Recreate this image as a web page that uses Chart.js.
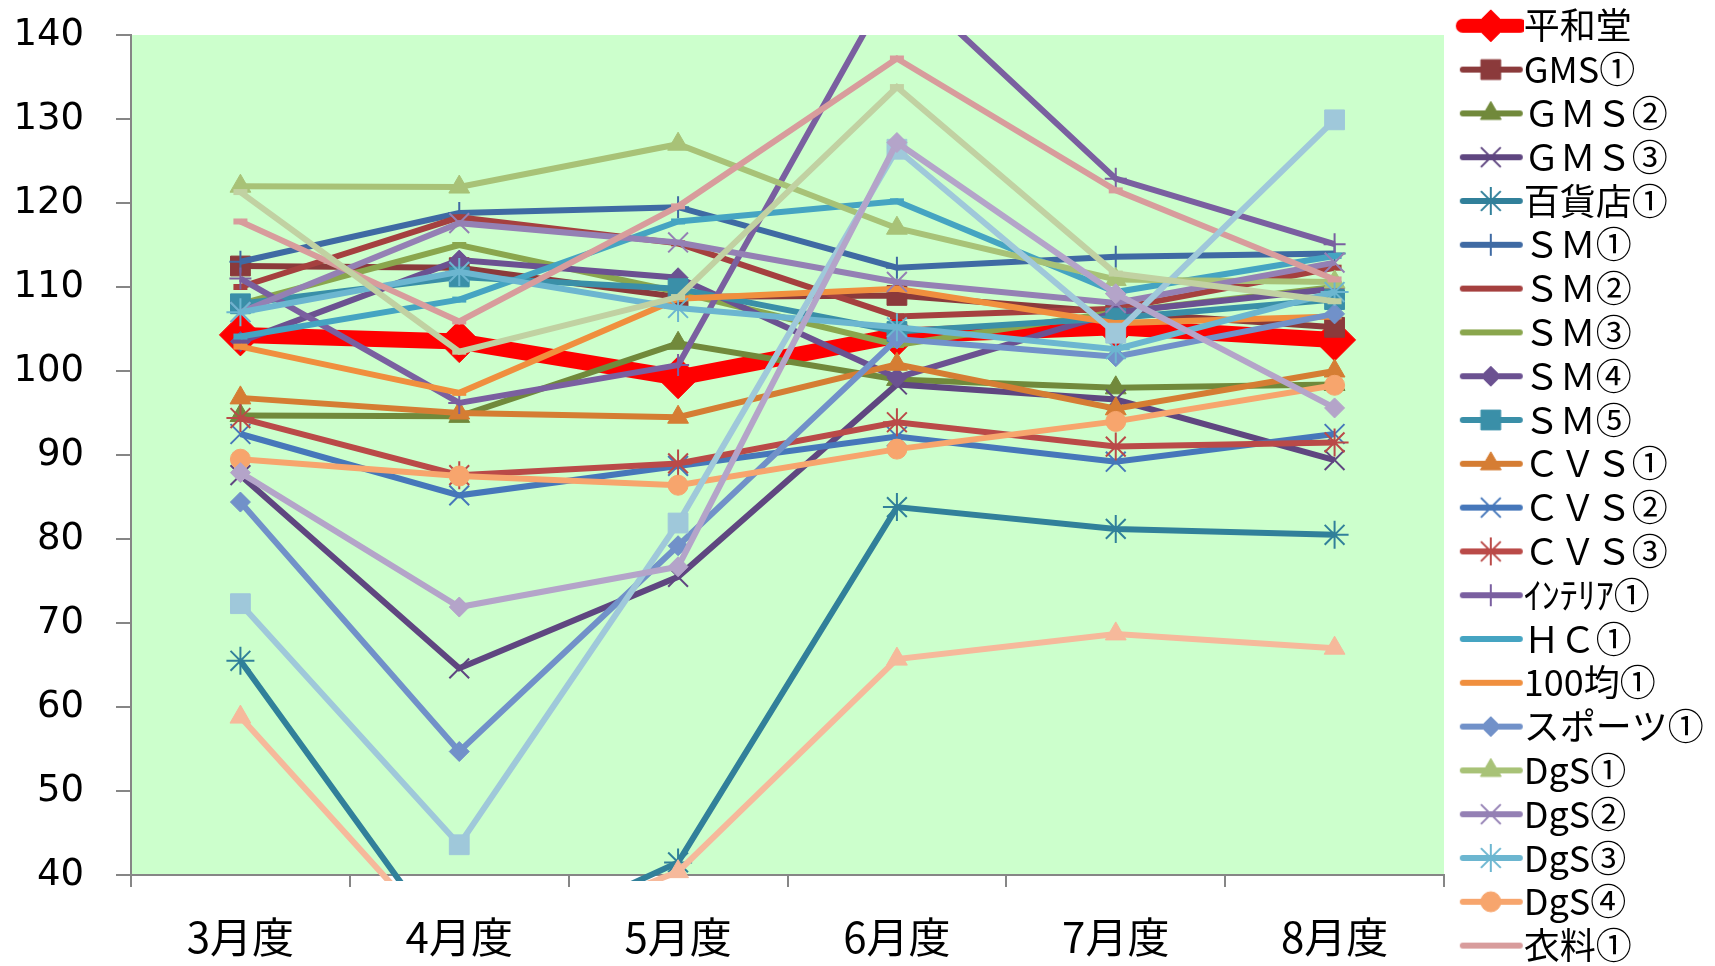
<!DOCTYPE html>
<html lang="ja">
<head>
<meta charset="utf-8">
<title>業態別 前年比</title>
<script src="https://cdn.jsdelivr.net/npm/chart.js@4.4.1/dist/chart.umd.min.js"></script>
<style>
    html, body { margin: 0; padding: 0; background: #fff; overflow: hidden; }
    #wrap { position: relative; width: 1715px; height: 1000px; }
</style>
</head>
<body>
<div id="wrap"><canvas id="salesChart"></canvas></div>
<script>
/* ---------- data ---------- */
const months = ['3月度', '4月度', '5月度', '6月度', '7月度', '8月度'];
const yMin = 40;
const yMax = 140;
const yStep = 10;

const heiwado   = [104.3, 103.5, 99.2, 104.2, 105.2, 103.7];
const gms1      = [112.5, 112.3, 108.8, 109.0, 107.0, 105.2];
const gms2      = [94.7, 94.6, 103.3, 99.0, 98.0, 98.4];
const gms3      = [87.6, 64.6, 75.5, 98.4, 96.6, 89.4];
const dept1     = [65.5, 29.5, 41.5, 83.8, 81.2, 80.5];
const sm1       = [113.0, 118.8, 119.5, 112.3, 113.6, 114.0];
const sm2       = [110.0, 118.3, 115.2, 106.5, 107.4, 112.3];
const sm3       = [108.0, 115.0, 109.4, 103.1, 107.0, 110.0];
const sm4       = [103.5, 113.2, 111.1, 99.2, 107.0, 109.8];
const sm5       = [108.0, 111.2, 109.8, 104.7, 106.3, 108.5];
const cvs1      = [96.8, 95.0, 94.5, 100.8, 95.5, 100.0];
const cvs2      = [92.5, 85.2, 88.7, 92.2, 89.2, 92.5];
const cvs3      = [94.4, 87.6, 89.0, 93.9, 91.0, 91.5];
const interior1 = [111.0, 96.2, 100.7, 147.2, 122.9, 115.1];
const hc1       = [104.1, 108.5, 117.8, 120.2, 109.4, 113.7];
const yen100    = [102.9, 97.4, 108.6, 109.8, 105.7, 106.5];
const sports1   = [84.4, 54.7, 79.2, 103.8, 101.7, 106.8];
const dgs1      = [122.0, 121.9, 127.0, 117.0, 110.9, 110.6];
const dgs2      = [107.0, 117.6, 115.3, 110.6, 108.1, 112.9];
const dgs3      = [107.0, 111.8, 107.5, 105.2, 102.6, 109.4];
const dgs4      = [89.5, 87.5, 86.4, 90.7, 94.0, 98.3];
const apparel1  = [117.8, 105.9, 119.6, 137.2, 121.5, 110.9];
// series whose legend entries are cut off below the picture
const extra23   = [72.3, 43.6, 81.9, 126.4, 104.5, 129.9];
const extra24   = [58.8, 30.0, 40.4, 65.7, 68.7, 67.0];
const extra25   = [121.3, 102.3, 108.8, 133.8, 111.6, 108.3];
const extra26   = [87.9, 71.9, 76.7, 127.2, 109.2, 95.6];

const seriesNames = [
    '平和堂', 'GMS①', 'ＧＭＳ②', 'ＧＭＳ③', '百貨店①', 'ＳＭ①', 'ＳＭ②', 'ＳＭ③',
    'ＳＭ④', 'ＳＭ⑤', 'ＣＶＳ①', 'ＣＶＳ②', 'ＣＶＳ③', 'ｲﾝﾃﾘｱ①', 'ＨＣ①', '100均①',
    'スポーツ①', 'DgS①', 'DgS②', 'DgS③', 'DgS④', '衣料①', '系列23', '系列24', '系列25', '系列26'
];
const seriesValues = [
    heiwado, gms1, gms2, gms3, dept1, sm1, sm2, sm3, sm4, sm5, cvs1, cvs2, cvs3,
    interior1, hc1, yen100, sports1, dgs1, dgs2, dgs3, dgs4, apparel1,
    extra23, extra24, extra25, extra26
];
const legendCount = 22;

/* ---------- styles ---------- */
const seriesStyles = [
    { color: '#FF0000', width: 16,  point: 'rectRot',  r: 21, pbw: 1 },
    { color: '#8B3A3B', width: 6,   point: 'rect',     r: 14, pbw: 1 },
    { color: '#71893B', width: 6,   point: 'triangle', r: 12, pbw: 1 },
    { color: '#5F4680', width: 6,   point: 'crossRot', r: 14, pbw: 2 },
    { color: '#31809A', width: 6,   point: 'star',     r: 14, pbw: 2 },
    { color: '#3F6AA3', width: 6,   point: 'cross',    r: 11, pbw: 2 },
    { color: '#A5403F', width: 6,   point: 'line',     r: 7,  pbw: 6 },
    { color: '#8AA64D', width: 6,   point: 'line',     r: 7,  pbw: 6 },
    { color: '#6B5191', width: 6,   point: 'rectRot',  r: 10, pbw: 1 },
    { color: '#3A8FA8', width: 6,   point: 'rect',     r: 14, pbw: 1 },
    { color: '#D57D33', width: 6,   point: 'triangle', r: 12, pbw: 1 },
    { color: '#4677BA', width: 6,   point: 'crossRot', r: 14, pbw: 2 },
    { color: '#BA4A48', width: 6,   point: 'star',     r: 14, pbw: 2 },
    { color: '#7A5FA0', width: 6,   point: 'cross',    r: 11, pbw: 2 },
    { color: '#45A4C2', width: 6,   point: 'line',     r: 7,  pbw: 6 },
    { color: '#F08F3E', width: 6,   point: 'line',     r: 7,  pbw: 6 },
    { color: '#7191C9', width: 6,   point: 'rectRot',  r: 10, pbw: 1 },
    { color: '#A8C277', width: 6,   point: 'triangle', r: 12, pbw: 1 },
    { color: '#9480B4', width: 6,   point: 'crossRot', r: 14, pbw: 2 },
    { color: '#6CB6D0', width: 6,   point: 'star',     r: 14, pbw: 2 },
    { color: '#F7A56D', width: 6,   point: 'circle',   r: 10, pbw: 1 },
    { color: '#D89C9C', width: 6,   point: 'line',     r: 7,  pbw: 6 },
    { color: '#9FC8DA', width: 6,   point: 'rect',     r: 14, pbw: 1 },
    { color: '#F6B99B', width: 6,   point: 'triangle', r: 12, pbw: 1 },
    { color: '#C1D1A2', width: 6,   point: 'line',     r: 7,  pbw: 6 },
    { color: '#B4A4C9', width: 6,   point: 'rectRot',  r: 10, pbw: 1 }
];

const LEGEND_FONT = { family: '"Noto Sans CJK JP", sans-serif', size: 36 };
const LEGEND_PAD = 7.8;
const LEGEND_BOX = 54;
const PLOT_RIGHT = 1444;

// little line + marker pictures for the legend
function makeLegendIcon(st) {
    const c = document.createElement('canvas');
    c.width = 90;
    c.height = 34;
    const g = c.getContext('2d');
    g.strokeStyle = st.color;
    g.fillStyle = st.color;
    g.lineCap = 'round';
    g.lineWidth = st.width > 10 ? 14 : 6;
    g.beginPath();
    g.moveTo(29, 17);
    g.lineTo(86, 17);
    g.stroke();
    if (st.point !== 'line') {
        g.lineCap = 'butt';
        g.lineWidth = st.pbw;
        const r = st.width > 10 ? 16 : st.r;
        Chart.helpers.drawPoint(g, { pointStyle: st.point, radius: r, borderWidth: st.pbw, rotation: 0 }, 57, 17);
    }
    return c;
}
const legendIcons = seriesStyles.map(makeLegendIcon);

// keep the plot's right edge where the reference has it
const measure = document.createElement('canvas').getContext('2d');
measure.font = LEGEND_FONT.size + 'px ' + LEGEND_FONT.family;
const widestLabel = Math.max(...seriesNames.slice(0, legendCount).map(t => measure.measureText(t).width));
const legendWidth = LEGEND_PAD + LEGEND_BOX + LEGEND_FONT.size / 2 + widestLabel + 10;
const padRight = Math.max(0, 1715 - PLOT_RIGHT - legendWidth);

const plotBackground = {
    id: 'plotBackground',
    beforeDraw(chart) {
        const { ctx, chartArea: a } = chart;
        ctx.save();
        ctx.fillStyle = '#CCFFCC';
        ctx.fillRect(a.left, a.top, a.right - a.left, a.bottom - a.top);
        ctx.restore();
    }
};

const datasets = seriesValues.map((values, i) => {
    const st = seriesStyles[i];
    return {
        label: seriesNames[i],
        data: values,
        borderColor: st.color,
        backgroundColor: st.color,
        borderWidth: st.width,
        pointStyle: st.point,
        pointRadius: st.r,
        pointHoverRadius: st.r,
        pointBorderWidth: st.pbw,
        pointBackgroundColor: st.color,
        pointBorderColor: st.color,
        tension: 0,
        order: seriesValues.length - i,
        clip: { left: 10, top: 0, right: 10, bottom: 6 }
    };
});

new Chart(document.getElementById('salesChart'), {
    type: 'line',
    data: { labels: months, datasets: datasets },
    options: {
        responsive: true,
        maintainAspectRatio: false,
        animation: false,
        layout: { padding: { left: 0, right: padRight, top: 0, bottom: 0 } },
        plugins: {
            title: { display: true, text: '', fullSize: false, font: { size: 10 }, padding: { top: 23, bottom: 0 } },
            tooltip: { enabled: false },
            legend: {
                position: 'right',
                align: 'start',
                labels: {
                    usePointStyle: true,
                    pointStyleWidth: LEGEND_BOX,
                    padding: LEGEND_PAD,
                    color: '#000',
                    font: LEGEND_FONT,
                    generateLabels: function(chart) {
                        return chart.data.datasets.slice(0, legendCount).map((ds, i) => ({
                            text: ds.label,
                            pointStyle: legendIcons[i],
                            fillStyle: ds.borderColor,
                            strokeStyle: ds.borderColor,
                            lineWidth: 0,
                            hidden: false,
                            datasetIndex: i,
                            fontColor: '#000'
                        }));
                    }
                }
            }
        },
        scales: {
            x: {
                offset: true,
                ticks: { color: '#000', font: { family: '"Noto Sans CJK JP", sans-serif', size: 42 }, padding: 25, maxRotation: 0 },
                grid: { offset: true, drawOnChartArea: false, tickLength: 12, color: '#868686', lineWidth: 2 },
                border: { color: '#868686', width: 2 },
                afterFit: function(axis) { axis.height = 125; }
            },
            y: {
                min: yMin,
                max: yMax,
                ticks: { stepSize: yStep, color: '#000', font: { family: '"DejaVu Sans", sans-serif', size: 37 }, padding: 0 },
                // long tick so labels sit well left of the axis; only the inner 15px is drawn
                grid: { drawOnChartArea: false, tickLength: 47, tickBorderDash: [15, 32], tickBorderDashOffset: 15, color: '#868686', lineWidth: 2 },
                border: { color: '#868686', width: 2 },
                afterFit: function(axis) { axis.width = 131; }
            }
        }
    },
    plugins: [plotBackground]
});
</script>
</body>
</html>
